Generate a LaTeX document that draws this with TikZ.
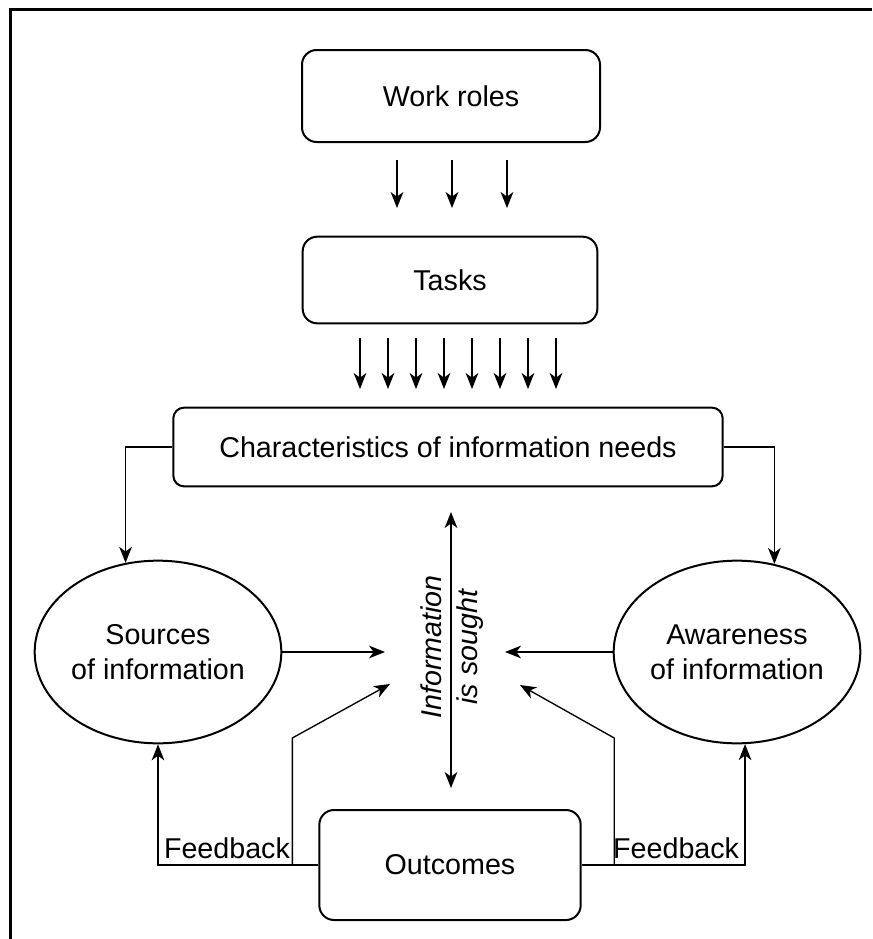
\documentclass[tikz,border=0pt]{standalone}
\usepackage{fontspec}
\setmainfont{Liberation Sans}
\usetikzlibrary{arrows.meta,positioning,shapes.geometric}

\begin{document}
\begin{tikzpicture}[x=0.75pt,y=-0.75pt]
	\tikzstyle{every node}=[font=\fontsize{21.5}{26}\selectfont]
	\tikzstyle{block}=[rectangle, rounded corners=11pt, line width=1.5pt, draw=black, align=center]
	\tikzstyle{oval}=[ellipse, line width=1.5pt, draw=black, minimum width=185pt, minimum height=137pt, align=center, inner sep=0pt]
	\tikzstyle{connect}=[-{Stealth[length=12pt,width=9.5pt,inset=3.5pt]}, line width=1pt]
	\tikzstyle{twoway}=[{Stealth[length=12pt,width=9.5pt,inset=3.5pt]}-{Stealth[length=12pt,width=9.5pt,inset=3.5pt]}, line width=1pt]
	\useasboundingbox (0,0) rectangle (872,939);
	\draw[line width=2.25pt] (10,939) -- (10,9) -- (872,9);

	  \node[block, minimum width=223.5pt, minimum height=69pt] (work) at (451,96) {Work roles};
	  \node[block, minimum width=221pt, minimum height=65pt] (tasks) at (450,280) {Tasks};
	  \node[block, rounded corners=8pt, minimum width=412pt, minimum height=59pt] (needs) at (448,447) {Characteristics of information needs};
	  \node[oval] (sources) at (158,652) {Sources\\of information};
	  \node[oval] (aware) at (737,652) {Awareness\\of information};
	  \node[block, minimum width=196pt, minimum height=82.5pt] (outcomes) at (450,865) {Outcomes};
	  \node[rotate=90, align=center, font=\fontsize{21.5}{23}\selectfont\itshape] (sought) at (452,647) {Information\\[4pt]is sought};

	  \coordinate (hubT) at (451,512);
	  \coordinate (hubB) at (451,788);
	  \coordinate (inL) at (385,652);
	  \coordinate (inR) at (505,652);
	  \coordinate (fbL) at (390,684);
	  \coordinate (fbR) at (520,685);

	  \foreach \x in {397,452,507}
	    \draw[connect] (\x,160) -- (\x,208);
	  \foreach \i in {0,...,7}
	    \draw[connect] (360+28*\i,338) -- (360+28*\i,389);

	  \path (needs.west) edge [connect, to path={-| (\tikztotarget)}] (sources.110)
			(needs.east) edge [connect, to path={-| (\tikztotarget)}] (aware.67)
			(sources.east) edge [connect] (inL)
			(aware.west) edge [connect] (inR)
			(hubT) edge [twoway] (hubB);

	  \draw[connect] (outcomes.west) -| (sources.south)
			node[pos=0.5, above right, inner sep=4pt] {Feedback};
	  \draw[connect] (outcomes.east) -| (aware.-85)
			node[pos=0.5, above left, inner sep=4pt] {Feedback};
	  \draw[connect] ([xshift=-19.5pt]outcomes.west) -- ++(0,-127) -- (fbL);
	  \draw[connect] ([xshift=24.4pt]outcomes.east) -- ++(0,-127) -- (fbR);

	\end{tikzpicture}
\end{document}
